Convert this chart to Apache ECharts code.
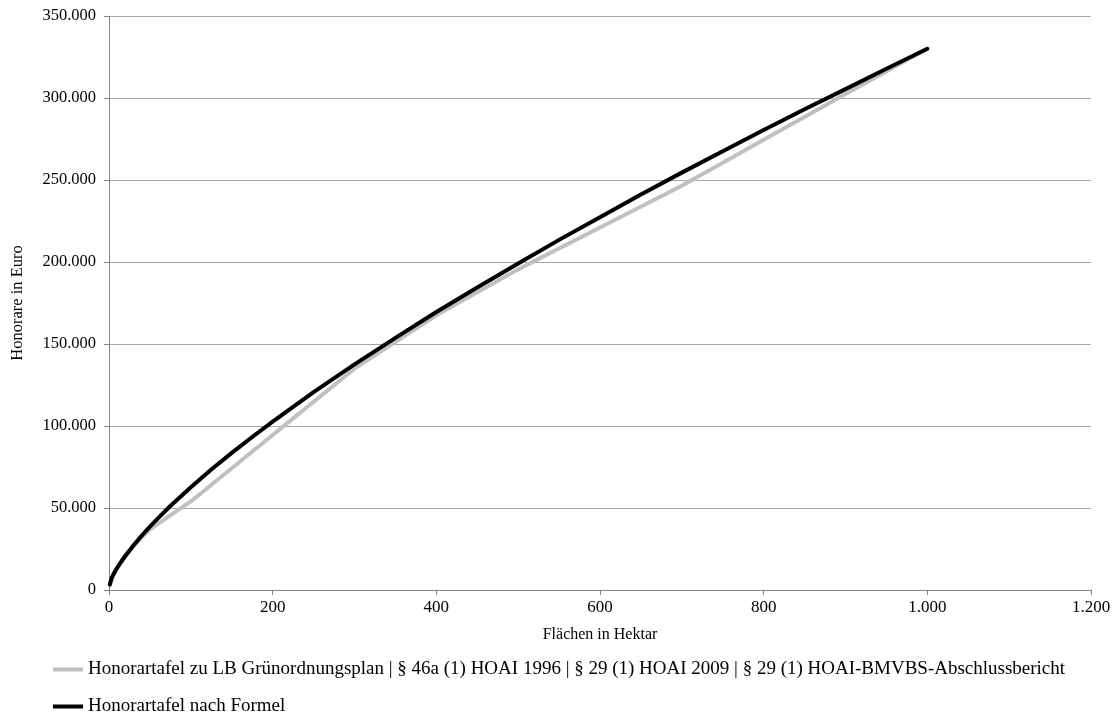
<!DOCTYPE html>
<html>
<head>
<meta charset="utf-8">
<script src="https://cdn.jsdelivr.net/npm/echarts@6/dist/echarts.min.js"></script>
<style>
html,body{margin:0;padding:0;background:#fff;}
#chart{width:1119px;height:716px;}
</style>
</head>
<body>
<div id="chart"></div>
<script>
// Data
const seriesNames = [
  'Honorartafel zu LB Grünordnungsplan | § 46a (1) HOAI 1996 | § 29 (1) HOAI 2009 | § 29 (1) HOAI-BMVBS-Abschlussbericht',
  'Honorartafel nach Formel'
];
// Honorartafel (table points), area in ha / fee in Euro
const tableArea = [1.5, 5, 10, 20, 30, 40, 50, 100, 200, 300, 400, 500, 600, 700, 800, 900, 1000];
const tableFee  = [3200, 8800, 13200, 20300, 26600, 32200, 37000, 54000, 94500, 135000, 167500, 195500, 221000, 246500, 274500, 302500, 330000];
// Honorartafel nach Formel (curve points)
const formulaArea = [1, 3, 5, 7.5, 10, 15, 20, 30, 40, 50, 60, 75, 100, 125, 150, 175, 200, 250, 300, 350, 400, 450, 500, 550, 600, 650, 700, 750, 800, 850, 900, 950, 1000];
const formulaFee  = [3300, 7050, 9130, 11440, 13550, 17390, 20900, 27300, 33140, 38620, 43800, 51200, 62680, 73430, 83600, 93300, 102650, 120600, 137600, 153700, 169500, 184500, 199100, 213500, 227300, 241100, 254500, 267500, 280500, 293100, 305400, 317800, 330000];
// Axis ticks
const xTicks = [0, 200, 400, 600, 800, 1000, 1200];
const yTicks = [0, 50000, 100000, 150000, 200000, 250000, 300000, 350000];

function de(v){
  const s = String(Math.round(v));
  return s.replace(/\B(?=(\d{3})+(?!\d))/g, '.');
}
const pair = (xs, ys) => xs.map((x, i) => [x, ys[i]]);

const FONT = "'Liberation Serif', 'Times New Roman', serif";
const chart = echarts.init(document.getElementById('chart'), null, {renderer: 'canvas'});
const legendBase = {
  orient: 'vertical',
  left: 48,
  itemWidth: 30, itemHeight: 4,
  icon: 'rect',
  textStyle: {fontFamily: FONT, fontSize: 19, color: '#000'}
};
chart.setOption({
  animation: false,
  backgroundColor: '#ffffff',
  textStyle: {fontFamily: FONT, color: '#000'},
  grid: {left: 109, right: 28, top: 16, bottom: 126, containLabel: false},
  xAxis: {
    type: 'value',
    min: xTicks[0], max: xTicks[xTicks.length - 1], interval: 200,
    name: 'Flächen in Hektar', nameLocation: 'middle', nameGap: 37,
    nameTextStyle: {fontFamily: FONT, fontSize: 16, color: '#000'},
    axisLine: {show: true, lineStyle: {color: '#868686', width: 1}},
    axisTick: {show: true, length: 5, lineStyle: {color: '#868686'}},
    axisLabel: {fontFamily: FONT, fontSize: 17, color: '#000', margin: 9, formatter: de},
    splitLine: {show: false}
  },
  yAxis: {
    type: 'value',
    min: yTicks[0], max: yTicks[yTicks.length - 1], interval: 50000,
    name: 'Honorare in Euro', nameLocation: 'middle', nameGap: 83,
    nameTextStyle: {fontFamily: FONT, fontSize: 16.5, color: '#000'},
    axisLine: {show: true, lineStyle: {color: '#868686', width: 1}},
    axisTick: {show: true, length: 5, lineStyle: {color: '#868686'}},
    axisLabel: {fontFamily: FONT, fontSize: 16.5, color: '#000', margin: 13, formatter: de},
    splitLine: {show: true, lineStyle: {color: '#a6a6a6', width: 1}}
  },
  legend: [
    Object.assign({}, legendBase, {top: 655, data: [seriesNames[0]]}),
    Object.assign({}, legendBase, {top: 692, data: [seriesNames[1]]})
  ],
  series: [
    {
      name: seriesNames[0], type: 'line',
      data: pair(tableArea, tableFee),
      showSymbol: false, symbol: 'none',
      lineStyle: {color: '#c0c0c0', width: 4, cap: 'round', join: 'round'},
      itemStyle: {color: '#c0c0c0'},
      z: 2
    },
    {
      name: seriesNames[1], type: 'line',
      data: pair(formulaArea, formulaFee),
      showSymbol: false, symbol: 'none',
      lineStyle: {color: '#000000', width: 4, cap: 'round', join: 'round'},
      itemStyle: {color: '#000000'},
      z: 3
    }
  ]
});
</script>
</body>
</html>
